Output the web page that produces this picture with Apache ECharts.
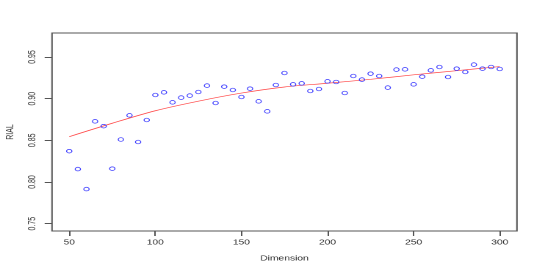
<!DOCTYPE html>
<html>
<head>
<meta charset="utf-8">
<script src="https://cdn.jsdelivr.net/npm/echarts@6/dist/echarts.min.js"></script>
<style>
html,body{margin:0;padding:0;background:#fff;}
#wrap{width:545px;height:273px;overflow:hidden;}
#c{width:371px;height:273px;transform:scaleX(1.469);transform-origin:0 0;}
</style>
</head>
<body>
<div id="wrap"><div id="c"></div></div>
<script>
// Data
const dimension = [50,55,60,65,70,75,80,85,90,95,100,105,110,115,120,125,130,135,140,145,150,155,160,165,170,175,180,185,190,195,200,205,210,215,220,225,230,235,240,245,250,255,260,265,270,275,280,285,290,295,300];
const rial = [0.837,0.8155,0.7915,0.8728,0.867,0.816,0.851,0.880,0.848,0.8744,0.9044,0.9076,0.8956,0.9013,0.9037,0.908,0.9157,0.8948,0.9144,0.9104,0.902,0.912,0.8968,0.8848,0.9164,0.9308,0.9172,0.9184,0.9092,0.9116,0.9208,0.920,0.9068,0.9272,0.9229,0.930,0.9272,0.9133,0.9349,0.9352,0.9172,0.9264,0.934,0.938,0.926,0.936,0.932,0.9409,0.936,0.938,0.9356];
const fitX = [50,75,100,125,150,175,200,225,250,275,300];
const fitY = [0.8544,0.8705,0.8855,0.897,0.9067,0.914,0.9185,0.9232,0.9286,0.9336,0.9385];
const xTicks = [50,100,150,200,250,300];
const yTicks = [0.75,0.80,0.85,0.90,0.95];

const txt = '#333';
const axc = '#555';
const font = 'Liberation Sans, Arial, Helvetica, sans-serif';

const chart = echarts.init(document.getElementById('c'), null, {devicePixelRatio: 2});
chart.setOption({
  animation: false,
  backgroundColor: '#fff',
  grid: {left: 35.4, right: 19.1, top: 33, bottom: 42, containLabel: false, outerBoundsMode: 'none',
    show: true, borderColor: axc, borderWidth: 1, backgroundColor: 'transparent'},
  xAxis: {
    type: 'value', min: 40, max: 310,
    name: 'Dimension', nameLocation: 'middle', nameGap: 24,
    nameTextStyle: {fontSize: 7, color: txt, fontFamily: font},
    axisLine: {show: false},
    splitLine: {show: false},
    axisTick: {show: true, customValues: xTicks, length: 5, lineStyle: {color: axc, width: 1}},
    axisLabel: {customValues: xTicks, margin: 8, fontSize: 7, color: txt, fontFamily: font}
  },
  yAxis: {
    type: 'value', min: 0.7412, max: 0.9788,
    name: 'RIAL', nameLocation: 'middle', nameGap: 25, nameRotate: 90,
    nameTextStyle: {fontSize: 7, color: txt, fontFamily: font},
    axisLine: {show: false},
    splitLine: {show: false},
    axisTick: {show: true, customValues: yTicks, length: 5, lineStyle: {color: axc, width: 1}},
    axisLabel: {customValues: yTicks, rotate: 90, margin: 10, fontSize: 7, color: txt, fontFamily: font,
      formatter: v => Number(v).toFixed(2)}
  },
  series: [
    {
      type: 'scatter',
      data: dimension.map((d, i) => [d, rial[i]]),
      symbol: 'circle',
      symbolSize: 3.6,
      z: 3,
      itemStyle: {color: 'rgba(0,0,0,0)', borderColor: '#3a3aff', borderWidth: 0.7, opacity: 1}
    },
    {
      type: 'line',
      data: fitX.map((d, i) => [d, fitY[i]]),
      showSymbol: false,
      smooth: 0.3,
      z: 2,
      lineStyle: {color: '#ff4545', width: 0.7}
    }
  ]
});
</script>
</body>
</html>
